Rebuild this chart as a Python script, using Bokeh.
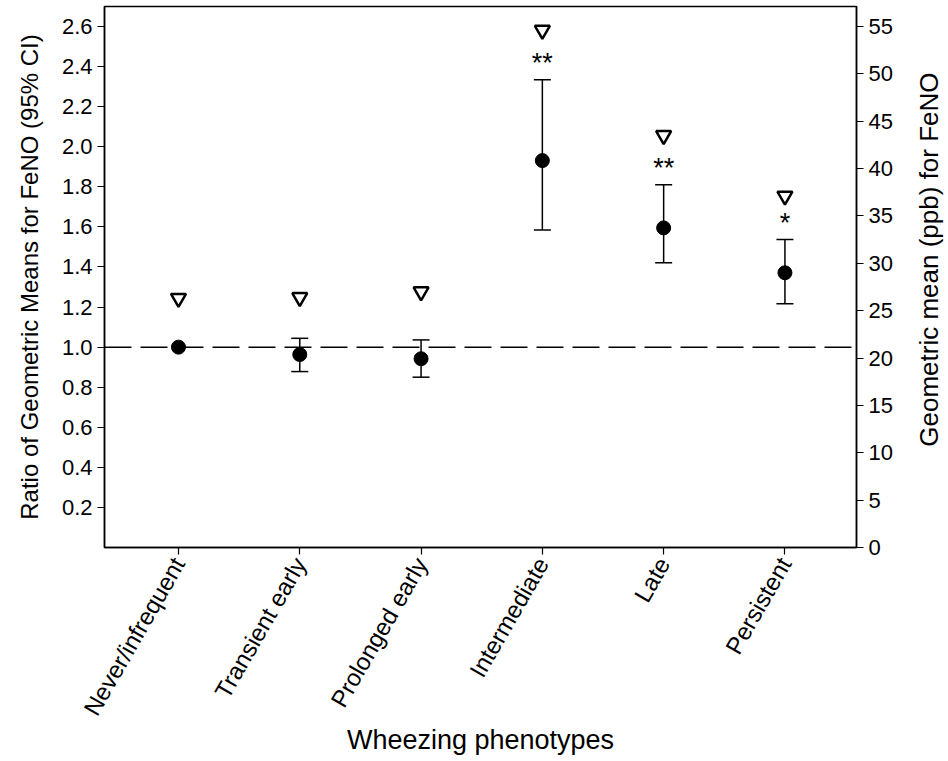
import math
from bokeh.plotting import figure
from bokeh.layouts import row
from bokeh.models import (ColumnDataSource, Range1d, LinearAxis, FixedTicker,
                          Whisker, TeeHead, Span, NumeralTickFormatter)
from bokeh.core.properties import value
from bokeh.embed import file_html
from bokeh.resources import INLINE

# ---- data ----
categories = ["Never/infrequent", "Transient early", "Prolonged early",
              "Intermediate", "Late", "Persistent"]
ratio_gm = [1.000, 0.963, 0.942, 1.931, 1.595, 1.371]
ci_lower = [None, 0.878, 0.850, 1.585, 1.421, 1.216]
ci_upper = [None, 1.044, 1.036, 2.335, 1.810, 1.537]
geo_mean_ppb = [26.3, 26.4, 27.0, 54.6, 43.5, 37.1]
significance = ["", "", "", "**", "**", "*"]
left_ticks = [0.2, 0.4, 0.6, 0.8, 1.0, 1.2, 1.4, 1.6, 1.8, 2.0, 2.2, 2.4, 2.6]
right_ticks = [0, 5, 10, 15, 20, 25, 30, 35, 40, 45, 50, 55]
reference_ratio = 1.0
right_title = "Geometric mean (ppb) for FeNO"

FONT = "Liberation Sans"
xs = list(range(len(categories)))

H = 761
TOP, BOTTOM = 6, 214
p = figure(width=908, height=H,
           x_range=Range1d(-0.61, 5.59), y_range=Range1d(0, 2.70),
           output_backend="svg", toolbar_location=None,
           min_border_left=104, min_border_right=52,
           min_border_top=TOP, min_border_bottom=BOTTOM)
p.extra_y_ranges = {"ppb": Range1d(0, 57.1)}

p.xgrid.visible = False
p.ygrid.visible = False
p.outline_line_color = "black"
p.outline_line_width = 1.5
p.background_fill_color = "white"
p.border_fill_color = "white"

# x axis
xa = p.xaxis[0]
xa.ticker = FixedTicker(ticks=xs)
xa.major_label_overrides = {i: c for i, c in zip(xs, categories)}
xa.major_label_orientation = math.pi / 3
xa.axis_label = "Wheezing phenotypes"

# left axis
ya = p.yaxis[0]
ya.ticker = FixedTicker(ticks=left_ticks)
ya.formatter = NumeralTickFormatter(format="0.0")
ya.axis_label = "Ratio of Geometric Means for FeNO (95% CI)"

# right axis
ra = LinearAxis(y_range_name="ppb", ticker=FixedTicker(ticks=right_ticks))
p.add_layout(ra, "right")

for ax in [xa, ya, ra]:
    ax.axis_line_color = "black"
    ax.axis_line_width = 1.5
    ax.major_tick_line_color = "black"
    ax.major_tick_line_width = 1.2
    ax.major_tick_out = 7
    ax.major_tick_in = 0
    ax.minor_tick_line_color = None
    ax.major_label_text_font = FONT
    ax.major_label_text_font_size = "22px"
    ax.major_label_text_color = "black"
    ax.axis_label_text_font = FONT
    ax.axis_label_text_font_size = "24px"
    ax.axis_label_text_font_style = "normal"
    ax.axis_label_text_color = "black"
xa.major_label_text_font_size = "24px"
xa.axis_label_text_font_size = "27px"
ya.axis_label_standoff = 16
xa.axis_label_standoff = -5

# reference line
p.add_layout(Span(location=reference_ratio, dimension="width",
                  line_color="black", line_width=1.5, line_dash="27 9"))

# error bars (only where CI exists)
idx = [i for i in xs if ci_lower[i] is not None]
err_src = ColumnDataSource(dict(x=[xs[i] for i in idx],
                                lower=[ci_lower[i] for i in idx],
                                upper=[ci_upper[i] for i in idx],
                                sig=[significance[i] for i in idx]))
p.add_layout(Whisker(source=err_src, base="x", lower="lower", upper="upper",
                     line_color="black", line_width=1.5,
                     upper_head=TeeHead(size=17, line_color="black", line_width=1.5),
                     lower_head=TeeHead(size=17, line_color="black", line_width=1.5)))

# significance stars above upper CI
p.text(x="x", y="upper", text="sig", source=err_src, y_offset=-17,
       text_align="center", text_baseline="middle",
       text_font=value(FONT), text_font_size="27px", text_color="black")

# ratio points
src = ColumnDataSource(dict(x=xs, ratio=ratio_gm, gm=geo_mean_ppb))
p.scatter(x="x", y="ratio", source=src, marker="circle", size=14,
          fill_color="black", line_color="black")

# geometric means (right axis)
p.scatter(x="x", y="gm", source=src, marker="inverted_triangle", size=15,
          fill_color="white", line_color="black", line_width=2.5,
          y_range_name="ppb")

# right-hand axis title, reading bottom-to-top
side = figure(width=40, height=H, x_range=Range1d(0, 1), y_range=Range1d(0, H),
              output_backend="svg", toolbar_location=None, min_border=0)
side.axis.visible = False
side.grid.visible = False
side.outline_line_color = None
side.border_fill_color = "white"
title_y = 405  # vertical anchor (px from bottom) of the right title
side.text(x=[0.5], y=[title_y], text=[right_title], angle=math.pi / 2,
          text_align="center", text_baseline="middle",
          text_font=value(FONT), text_font_size="26px", text_color="black")

layout = row(p, side, spacing=0)
open("out.html", "w").write(file_html(layout, INLINE))
